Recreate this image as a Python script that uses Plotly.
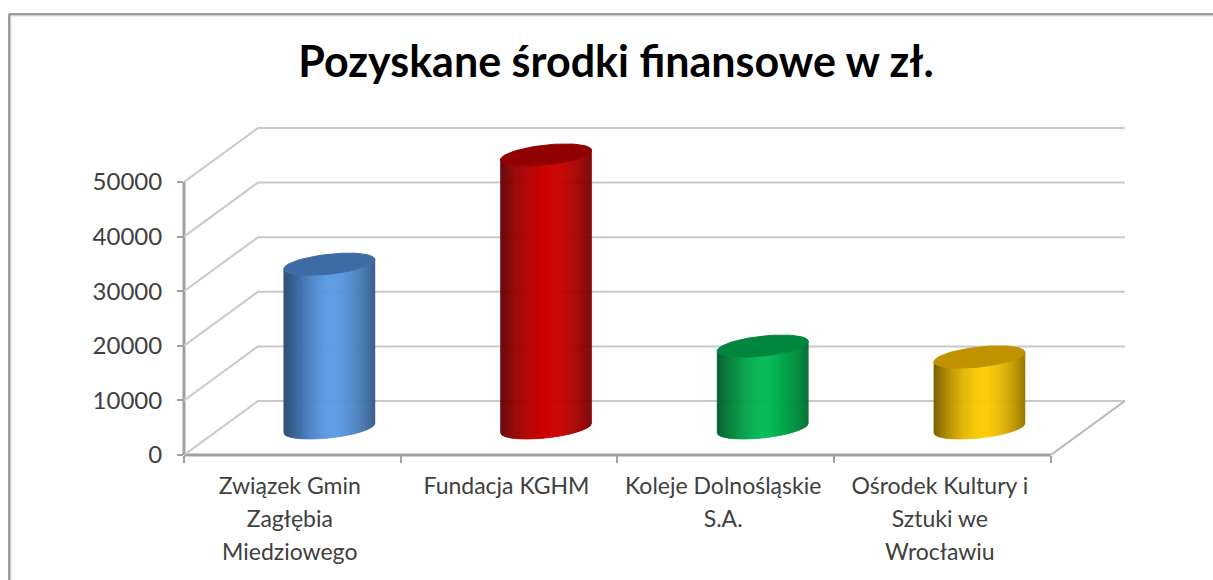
import numpy as np
import plotly.graph_objects as go

TITLE = "Pozyskane środki finansowe w zł."
categories = [
    ["Związek Gmin", "Zagłębia", "Miedziowego"],
    ["Fundacja KGHM"],
    ["Koleje Dolnośląskie", "S.A."],
    ["Ośrodek Kultury i", "Sztuki we", "Wrocławiu"],
]
values = [30000, 50000, 15000, 13000]
y_ticks = [0, 10000, 20000, 30000, 40000, 50000]

side_colors = [(91, 155, 230), (208, 0, 0), (0, 186, 84), (255, 204, 0)]
top_colors = ["#3d6ba5", "#900000", "#00863e", "#c09200"]
grid_color = "#c9c9c9"
axis_color = "#a0a0a0"

# Oblique depth of the 3D box, in axis units
DX, DY = 0.3415, 9890
# Cylinder radius and ellipse proportions, in axis units
RX, TILT, RY = 0.21, 870, 1830
N_SLICES = 90

fig = go.Figure()


def line(xs, ys, color, width=2):
    fig.add_trace(go.Scatter(x=xs, y=ys, mode="lines", cliponaxis=False,
                             line=dict(color=color, width=width),
                             hoverinfo="skip", showlegend=False))


n = len(values)
for t in y_ticks:
    line([0, DX, n + DX], [t, t + DY, t + DY], grid_color)
line([n, n + DX], [0, DY], "#b5b5b5")


def shade(rgb, u):
    f = 1 - 0.46 * abs(u - 0.08) ** 1.6
    return "rgb(%d,%d,%d)" % tuple(int(c * f) for c in rgb)


edges = np.linspace(-1, 1, N_SLICES + 1)
for i, (v, rgb, top) in enumerate(zip(values, side_colors, top_colors)):
    cx = i + 0.5 + DX / 2
    y0 = DY / 2
    y1 = y0 + v
    for a, b in zip(edges[:-1], edges[1:]):
        us = np.array([a, b])
        xs = cx + RX * us
        offs = TILT * us - RY * np.sqrt(np.clip(1 - us ** 2, 0, 1))
        col = shade(rgb, (a + b) / 2)
        fig.add_trace(go.Scatter(
            x=np.r_[xs, xs[::-1], xs[0]],
            y=np.r_[y1 + offs, (y0 + offs)[::-1], y1 + offs[0]],
            mode="lines", fill="toself", fillcolor=col,
            line=dict(color=col, width=0.6),
            hoverinfo="skip", showlegend=False))
    th = np.linspace(0, 2 * np.pi, 80)
    fig.add_trace(go.Scatter(
        x=cx + RX * np.cos(th),
        y=y1 + TILT * np.cos(th) + RY * np.sin(th),
        mode="lines", fill="toself", fillcolor=top,
        line=dict(color=top, width=1),
        hoverinfo="skip", showlegend=False))

tick_text = ["<br>".join('<span style="font-size:23px">%s</span>' % s for s in c)
             for c in categories]

fig.update_xaxes(
    range=[0, 941 / 216.7], showgrid=False, zeroline=False, showline=False,
    tickmode="array", tickvals=[i + 0.488 for i in range(n)], ticktext=tick_text,
    ticks="", tickfont=dict(family="Lato", size=25.4, color="#404040"),
    ticklabelstandoff=13,
    minor=dict(tickmode="array", tickvals=list(range(n + 1)), ticks="outside",
               ticklen=7, tickwidth=2, tickcolor=axis_color, showgrid=False),
)
fig.update_yaxes(
    range=[0, 60070], showgrid=False, zeroline=False, showline=False,
    tickmode="array", tickvals=y_ticks, ticktext=[str(t) for t in y_ticks],
    ticks="outside", ticklen=6, tickwidth=2, ticklabelstandoff=10,
    tickcolor=axis_color, tickfont=dict(family="Lato", size=24, color="#404040"),
)

# Slide frame (top and left edges, fading inward)
X = lambda px: (px - 184) / 941
Y = lambda py: (453 - py) / 328
shapes = []
for off, col in [(2, "#ececec"), (1, "#c4c4c4"), (0, "#808080")]:
    shapes.append(dict(type="line", xref="paper", yref="paper", layer="below",
                       x0=X(9 + off), x1=X(1213), y0=Y(12 + off), y1=Y(12 + off),
                       line=dict(color=col, width=1.5)))
    shapes.append(dict(type="line", xref="paper", yref="paper", layer="below",
                       x0=X(9 + off), x1=X(9 + off), y0=Y(12 + off), y1=Y(580),
                       line=dict(color=col, width=1.5)))
# Front axis lines: one end follows the axis, the other is pinned to the plot edge
shapes.append(dict(type="line", xref="x", yref="paper", layer="below", x0=0, x1=n,
                   y0=0, y1=0, line=dict(color=axis_color, width=3)))
shapes.append(dict(type="line", xref="paper", yref="y", layer="below", x0=0, x1=0,
                   y0=y_ticks[0], y1=y_ticks[-1], line=dict(color=axis_color, width=3)))

fig.update_layout(
    width=1213, height=580, autosize=False,
    margin=dict(l=184, r=88, t=127, b=125),
    paper_bgcolor="white", plot_bgcolor="rgba(0,0,0,0)",
    showlegend=False, shapes=shapes,
    title=dict(text="<b>%s</b>" % TITLE, x=616 / 1213, xanchor="center",
               y=1 - 62 / 580, yanchor="middle",
               font=dict(family="Lato", size=43, color="black")),
)
fig.write_html("out.html", config=dict(displayModeBar=False),
               post_script="document.body.style.margin='0';document.documentElement.style.overflow='hidden';")
